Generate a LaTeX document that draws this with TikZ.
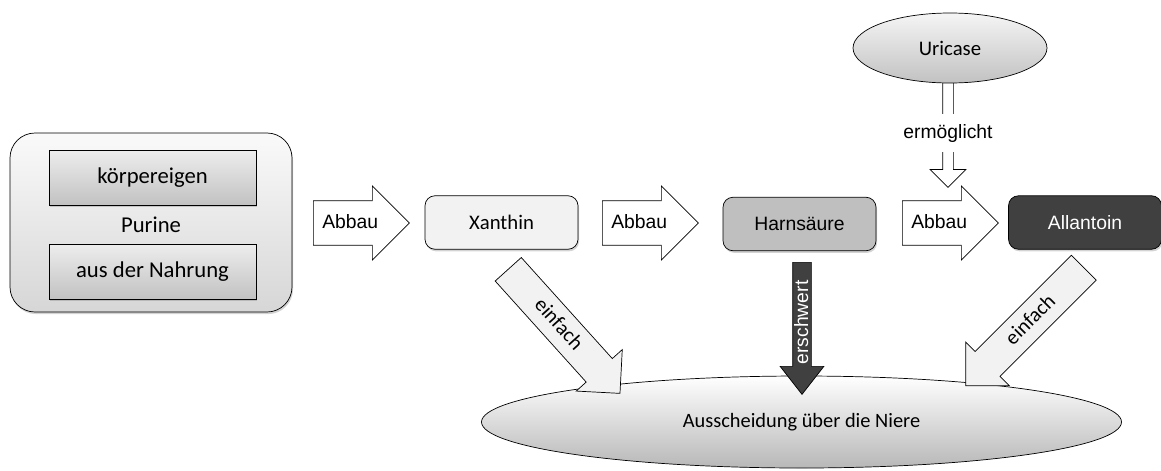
\documentclass[tikz,border=0pt]{standalone}
\usepackage{fontspec}
\setmainfont{Carlito}
\newfontfamily\arialfont{Liberation Sans}
\usetikzlibrary{shapes.arrows,shapes.geometric,shadows,positioning}

\begin{document}
\begin{tikzpicture}[
  shade/.style={drop shadow={shadow xshift=0.6pt, shadow yshift=-1.2pt, opacity=0.35}},
  group/.style={draw, rounded corners=0.5cm, minimum width=5.64cm, minimum height=3.58cm,
                top color=black!2, bottom color=black!16, shade},
  source/.style={draw, minimum width=4.14cm, minimum height=1.1cm,
                 top color=black!7, bottom color=black!24, shade,
                 font=\fontsize{12.9}{15}\selectfont},
  stage/.style={draw, rounded corners=0.2cm, minimum width=3.06cm, minimum height=1.07cm,
                shade, font=\arialfont\fontsize{11}{13}\selectfont},
  blockarr/.style={draw, single arrow, single arrow tip angle=90, anchor=tail},
  abbau/.style={blockarr, fill=white, minimum height=1.92cm, minimum width=1.48cm,
                text height=0.27cm, text depth=0.07cm, inner ysep=0.2cm, inner xsep=0.04cm,
                font=\arialfont\fontsize{11}{13}\selectfont},
  easy/.style={blockarr, fill=black!5, minimum height=3.34cm, minimum width=1.24cm,
               text height=0.28cm, text depth=0.06cm, inner ysep=0.15cm, inner xsep=0.73cm,
               font=\fontsize{11.8}{13}\selectfont},
  lbl/.style={font=\arialfont\fontsize{11}{13}\selectfont}
]
  \useasboundingbox (0,0) rectangle (23.22,9.4);

  % Purine
  \node[group]  (pur)  at (3.02,4.95) {};
  \node[source] (own)  at (3.05,5.85) {körpereigen};
  \node[font=\fontsize{12.9}{15}\selectfont] (purine) at (3.02,4.9) {Purine};
  \node[source] (food) at (3.05,3.97) {aus der Nahrung};

  % Abbau
  \node[abbau] (ab1) at (6.26,4.94)  {Abbau};
  \node[stage, fill=black!5, font=\fontsize{11.8}{13}\selectfont] (xan) at (10.03,4.95) {Xanthin};
  \node[abbau] (ab2) at (12.04,4.94) {Abbau};
  \node[stage, fill=black!25] (hs) at (15.99,4.92) {Harnsäure};
  \node[abbau] (ab3) at (18.04,4.94) {Abbau};
  \node[stage, fill=black!75, text=white] (all) at (21.70,4.95) {Allantoin};

  % Uricase
  \node[blockarr, fill=white, shape border rotate=270, minimum height=2.2cm,
        minimum width=0.46cm, text height=0pt, text depth=0pt, inner sep=0.1cm]
        (enab) at (18.96,7.86) {};
  \node[ellipse, draw, top color=black!4, bottom color=black!24, minimum width=3.88cm,
        minimum height=1.4cm, font=\fontsize{11.8}{13}\selectfont] (uric) at (19.0,8.44) {Uricase};
  \node[lbl, fill=white, inner xsep=2pt, inner ysep=0.2cm] (erm) at (18.96,6.74) {ermöglicht};

  % Niere
  \node[ellipse, draw, top color=white, bottom color=black!28, minimum width=12.8cm,
        minimum height=1.84cm, font=\fontsize{11.6}{13}\selectfont] (ren) at (16.03,0.96)
        {Ausscheidung über die Niere};
  \node[easy, rotate=-48] (e1) at (10.16,4.02) {einfach};
  \node[easy, rotate=45, shape border rotate=180] (e2) at (21.68,4.05) {einfach};
  \node[blockarr, fill=black!75, text=white, rotate=90, shape border rotate=180,
        minimum height=2.64cm, minimum width=0.66cm, text height=0.27cm, text depth=0.03cm,
        inner ysep=0.03cm, inner xsep=0.28cm, single arrow tip angle=76, lbl] (hard)
        at (16.04,4.16) {erschwert};
\end{tikzpicture}
\end{document}
